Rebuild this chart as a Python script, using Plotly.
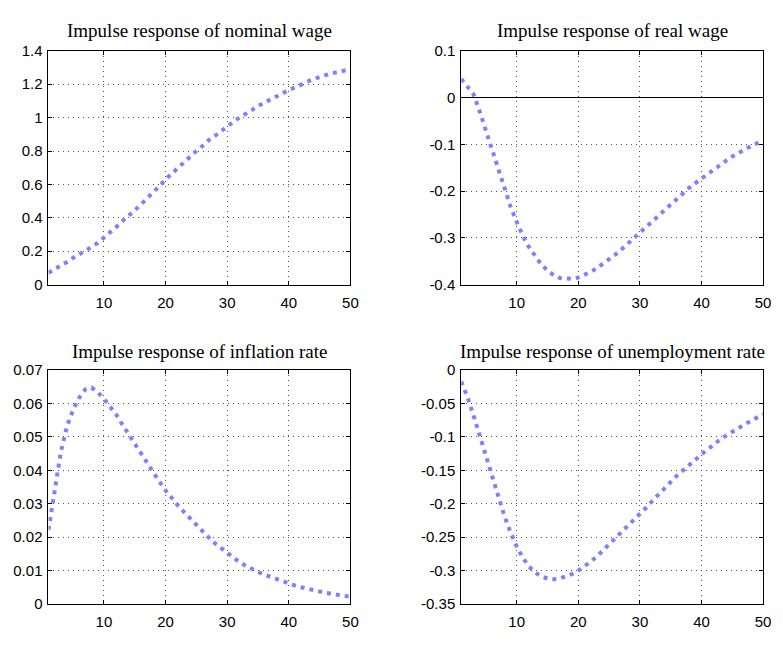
import plotly.graph_objects as go

# Horizon (periods after the shock)
periods = list(range(1, 51))

nominal_wage = [
    0.070, 0.090, 0.115, 0.135, 0.160, 0.180, 0.200, 0.225, 0.250, 0.280,
    0.310, 0.345, 0.380, 0.410, 0.445, 0.480, 0.515, 0.550, 0.590, 0.630,
    0.665, 0.700, 0.730, 0.765, 0.800, 0.830, 0.865, 0.890, 0.920, 0.950,
    0.975, 1.000, 1.020, 1.045, 1.070, 1.090, 1.110, 1.130, 1.150, 1.165,
    1.180, 1.200, 1.215, 1.230, 1.245, 1.255, 1.265, 1.275, 1.283, 1.290,
]

real_wage = [
    0.040, 0.025, 0.007, -0.030, -0.072, -0.113, -0.156, -0.196, -0.233, -0.266,
    -0.296, -0.320, -0.340, -0.357, -0.370, -0.380, -0.386, -0.388, -0.388, -0.385,
    -0.380, -0.373, -0.365, -0.356, -0.346, -0.336, -0.325, -0.313, -0.301, -0.289,
    -0.278, -0.266, -0.254, -0.242, -0.230, -0.217, -0.204, -0.193, -0.183, -0.173,
    -0.163, -0.154, -0.145, -0.135, -0.126, -0.118, -0.111, -0.104, -0.098, -0.092,
]

inflation_rate = [
    0.0222, 0.0345, 0.0455, 0.0532, 0.0582, 0.0618, 0.0643, 0.0648, 0.0634, 0.0614,
    0.0590, 0.0567, 0.0537, 0.0508, 0.0478, 0.0448, 0.0419, 0.0394, 0.0366, 0.0340,
    0.0316, 0.0295, 0.0275, 0.0255, 0.0235, 0.0217, 0.0199, 0.0182, 0.0167, 0.0152,
    0.0138, 0.0125, 0.0114, 0.0104, 0.0096, 0.0088, 0.0081, 0.0073, 0.0067, 0.0061,
    0.0055, 0.0050, 0.0045, 0.0041, 0.0037, 0.0033, 0.0030, 0.0026, 0.0024, 0.0022,
]

unemployment_rate = [
    -0.017, -0.040, -0.068, -0.099, -0.130, -0.160, -0.190, -0.218, -0.243, -0.264,
    -0.281, -0.294, -0.303, -0.309, -0.312, -0.313, -0.312, -0.309, -0.305, -0.300,
    -0.294, -0.287, -0.279, -0.270, -0.262, -0.253, -0.244, -0.235, -0.225, -0.216,
    -0.206, -0.196, -0.186, -0.176, -0.167, -0.158, -0.150, -0.141, -0.134, -0.126,
    -0.118, -0.111, -0.104, -0.098, -0.092, -0.086, -0.081, -0.076, -0.071, -0.066,
]

titles = [
    "Impulse response of nominal wage",
    "Impulse response of real wage",
    "Impulse response of inflation rate",
    "Impulse response of unemployment rate",
]

x_tickvals = [10, 20, 30, 40, 50]
x_ticktext = ["10", "20", "30", "40", "50"]

nominal_tickvals = [0, 0.2, 0.4, 0.6, 0.8, 1.0, 1.2, 1.4]
nominal_ticktext = ["0", "0.2", "0.4", "0.6", "0.8", "1", "1.2", "1.4"]

real_tickvals = [-0.4, -0.3, -0.2, -0.1, 0, 0.1]
real_ticktext = ["-0.4", "-0.3", "-0.2", "-0.1", "0", "0.1"]

inflation_tickvals = [0, 0.01, 0.02, 0.03, 0.04, 0.05, 0.06, 0.07]
inflation_ticktext = ["0", "0.01", "0.02", "0.03", "0.04", "0.05", "0.06", "0.07"]

unemp_tickvals = [-0.35, -0.3, -0.25, -0.2, -0.15, -0.1, -0.05, 0]
unemp_ticktext = ["-0.35", "-0.3", "-0.25", "-0.2", "-0.15", "-0.1", "-0.05", "0"]

W, H = 783, 645
LINE_COLOR = "rgb(128,128,255)"
TICK_FONT = dict(family="Liberation Sans, Arial, sans-serif", size=15, color="black")
TITLE_FONT = dict(family="Liberation Serif, Times New Roman, serif", size=19, color="black")

# Subplot boxes in pixels: (left, right, top, bottom)
boxes = [
    (49, 354, 43, 283),
    (466, 771, 43, 283),
    (49, 354, 371, 611),
    (466, 771, 371, 611),
]

series = [nominal_wage, real_wage, inflation_rate, unemployment_rate]
y_ranges = [[0, 1.4], [-0.4, 0.1], [0, 0.07], [-0.35, 0]]
y_ticks = [
    (nominal_tickvals, nominal_ticktext),
    (real_tickvals, real_ticktext),
    (inflation_tickvals, inflation_ticktext),
    (unemp_tickvals, unemp_ticktext),
]
title_y = [22, 352]

fig = go.Figure()
layout = dict(
    width=W,
    height=H,
    margin=dict(l=0, r=0, t=0, b=0),
    paper_bgcolor="white",
    plot_bgcolor="white",
    showlegend=False,
    annotations=[],
)

for i, (vals, yr, (ytv, ytt), box) in enumerate(zip(series, y_ranges, y_ticks, boxes)):
    n = "" if i == 0 else str(i + 1)
    left, right, top, bottom = box
    fig.add_trace(go.Scatter(
        x=periods, y=vals, mode="lines",
        line=dict(color=LINE_COLOR, width=4, dash="4px,5px"),
        xaxis="x" + n, yaxis="y" + n, hoverinfo="skip",
    ))
    common = dict(
        showline=True, linecolor="black", linewidth=1, mirror="ticks",
        ticks="inside", ticklen=4, tickcolor="black", tickwidth=1,
        showgrid=True, gridcolor="rgb(80,80,80)", gridwidth=1, griddash="1px,4px",
        tickfont=TICK_FONT, fixedrange=True,
    )
    layout["xaxis" + n] = dict(
        common,
        domain=[left / W, right / W],
        range=[1, 50],
        tickvals=x_tickvals, ticktext=x_ticktext,
        anchor="y" + n,
        zeroline=False,
        ticklabelstandoff=4,
    )
    layout["yaxis" + n] = dict(
        common,
        domain=[1 - bottom / H, 1 - top / H],
        range=yr,
        tickvals=ytv, ticktext=ytt,
        anchor="x" + n,
        zeroline=(i == 1), zerolinecolor="black", zerolinewidth=1,
        ticklabelstandoff=2,
    )
    layout["annotations"].append(dict(
        text=titles[i], xref="paper", yref="paper",
        x=(left + right) / 2 / W, y=1 - title_y[i // 2] / H,
        xanchor="center", yanchor="middle", showarrow=False, font=TITLE_FONT,
    ))

fig.update_layout(**layout)
fig.write_html("out.html")
